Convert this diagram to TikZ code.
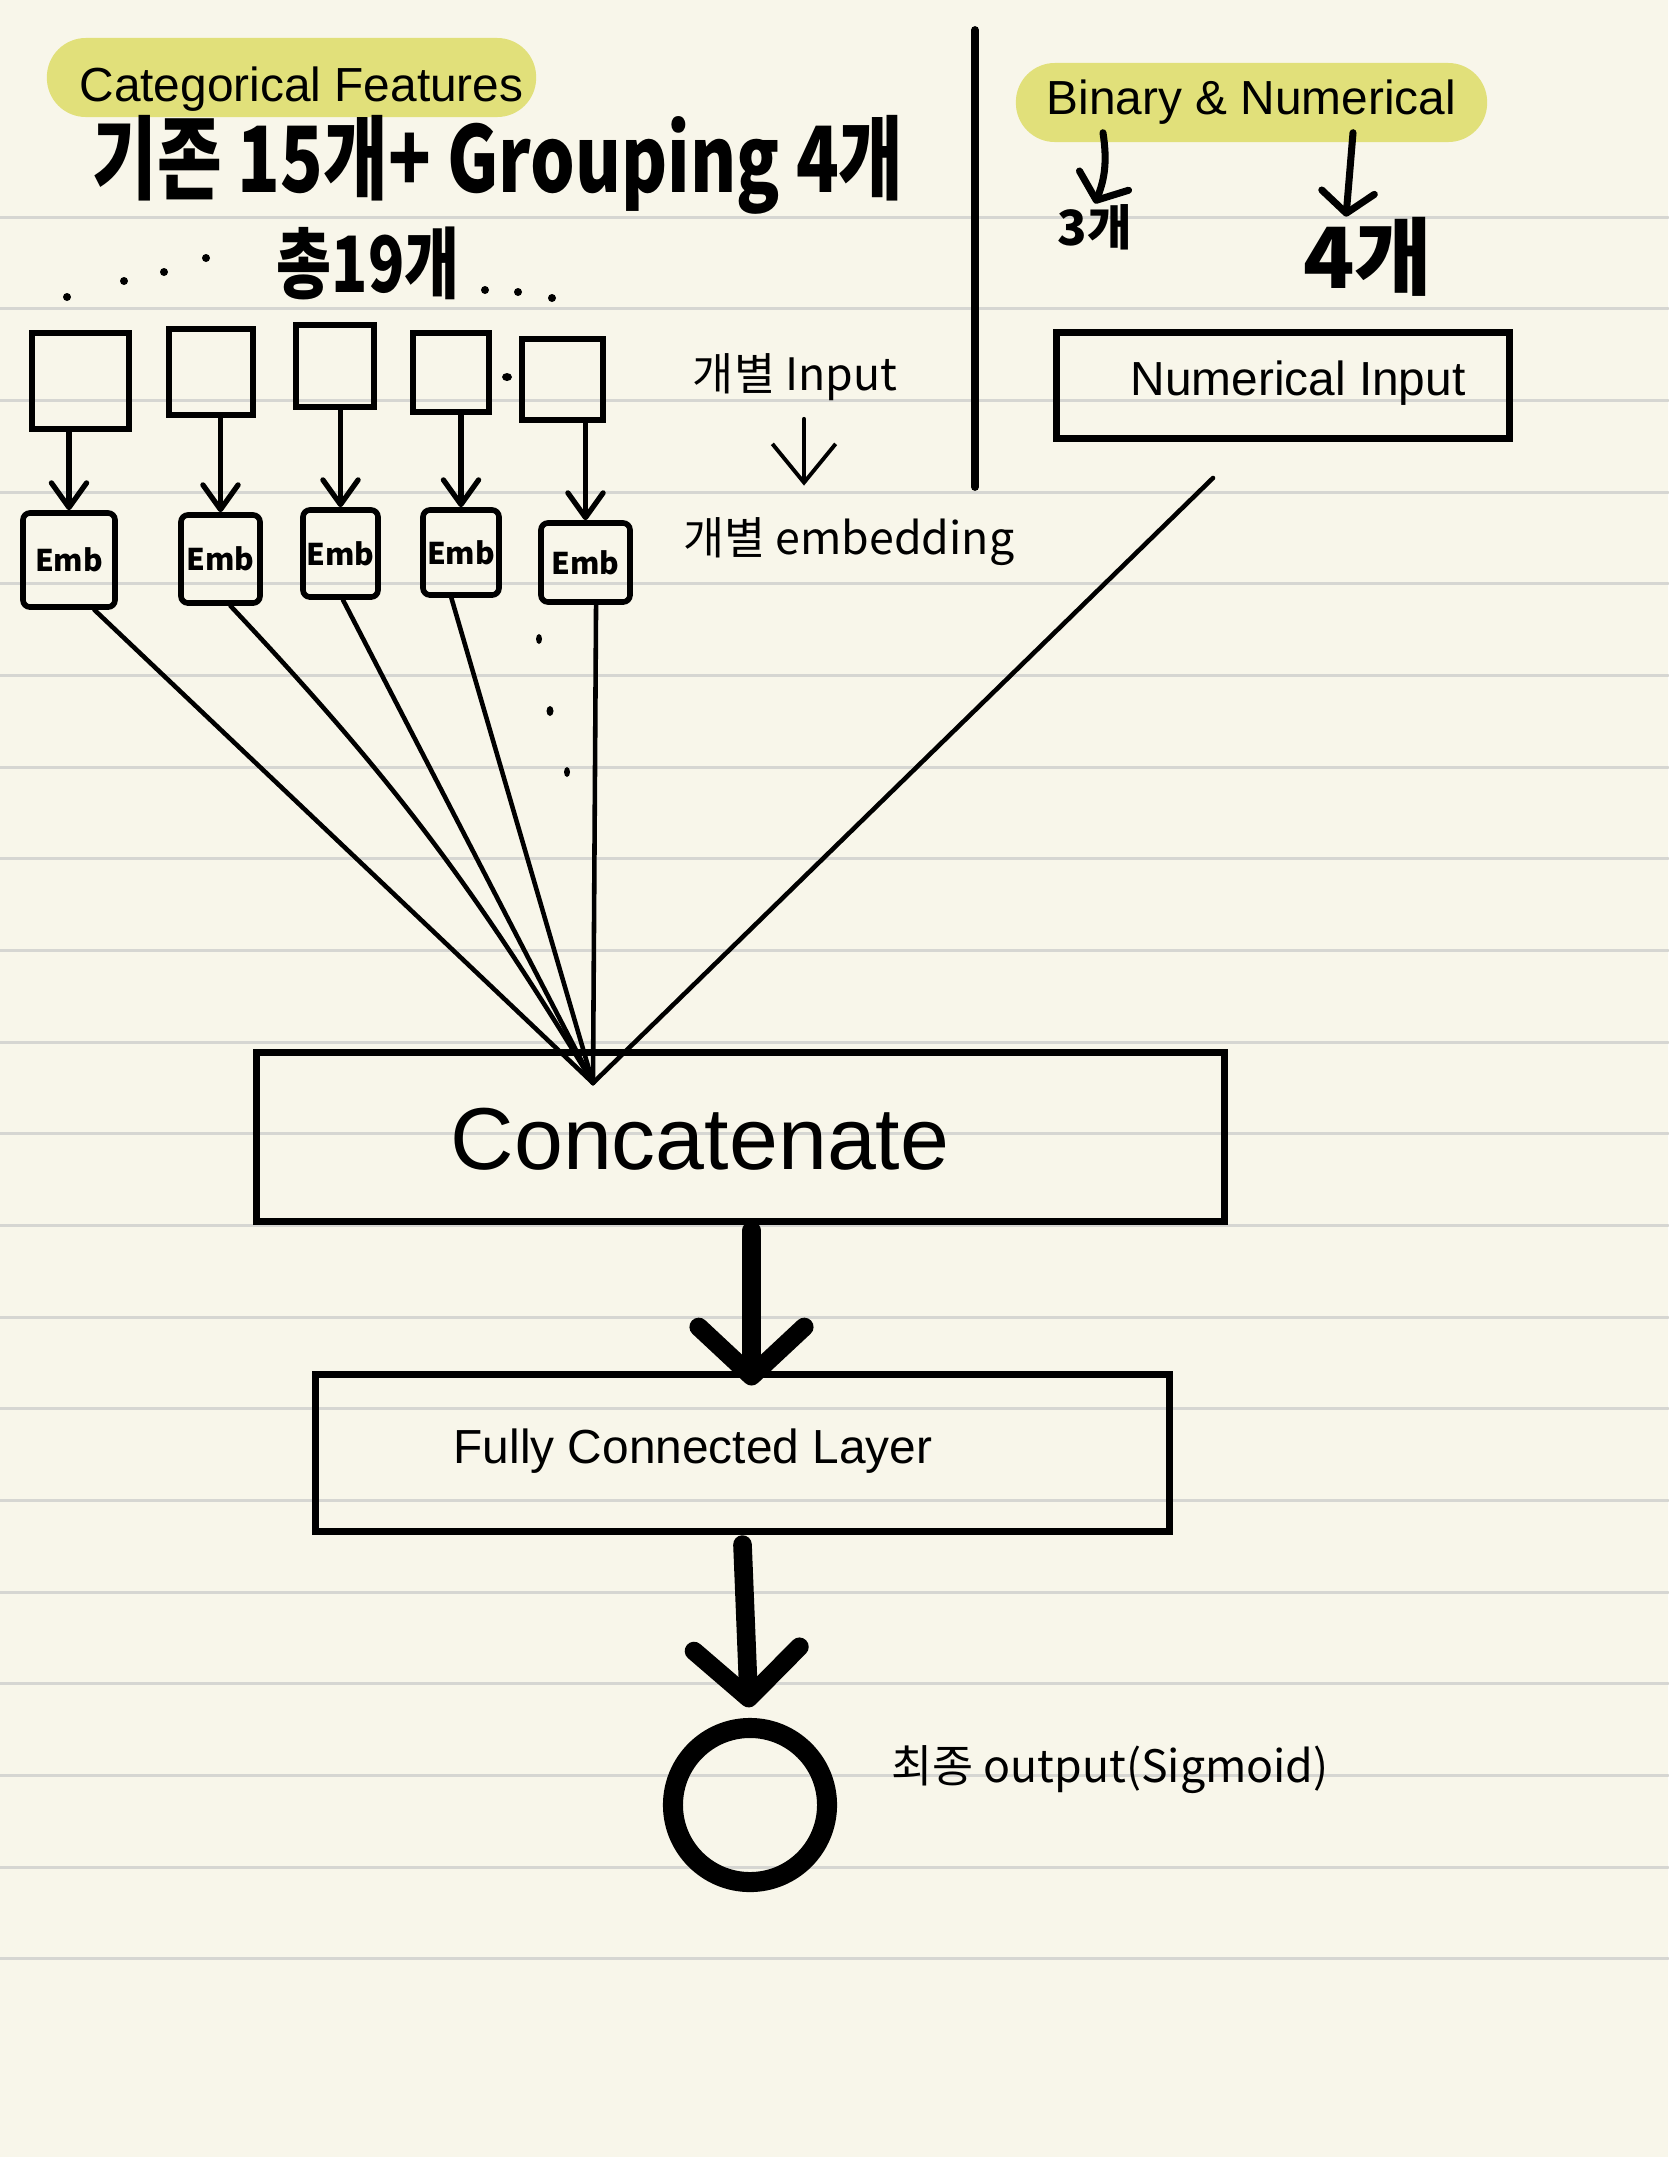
\documentclass[tikz,border=0pt]{standalone}
\usepackage{fontspec}
\setmainfont{Liberation Sans}
\newfontfamily\krfont{Noto Sans CJK KR}
\usetikzlibrary{arrows.meta, calc, positioning}

\definecolor{paper}{RGB}{248,246,234}
\definecolor{ruleline}{RGB}{214,214,210}
\definecolor{hilite}{RGB}{225,224,122}

\newcommand{\labelfont}{\fontsize{13.6pt}{16pt}\selectfont}
\newcommand{\notefont}{\krfont\fontsize{12.7pt}{15pt}\selectfont}

\tikzset{
  pill/.style={fill=hilite, rounded corners=0.39cm, minimum height=0.79cm, inner sep=0pt, font=\labelfont},
  inbox/.style={draw, line width=1.7pt, inner sep=0pt},
  embbox/.style={draw, line width=1.6pt, rounded corners=2pt, inner sep=0pt,
    font=\krfont\bfseries\fontsize{8.5pt}{9pt}\selectfont},
  layerbox/.style={draw, line width=2pt, inner sep=0pt},
  note/.style={inner sep=0pt, font=\notefont},
  hand/.style={inner sep=0pt, font=\krfont\bfseries},
  feed/.style={line width=1.3pt},
  smallarrow/.style={line width=1.5pt, -{Straight Barb[length=7pt, width=10pt, round]}},
  handarrow/.style={line width=2pt, -{Straight Barb[length=6pt, width=15pt, round]}},
  thinarrow/.style={line width=1.1pt, -{Straight Barb[length=11pt, width=18pt]}},
  bigarrow/.style={line width=5.3pt, line cap=round, -{Straight Barb[length=14pt, width=30pt, round]}},
  ruled/.style={ruleline, line width=0.85pt}
}

\begin{document}
\begin{tikzpicture}[x=0.01cm, y=-0.01cm, line cap=round]
  % paper
  \fill[paper] (0,0) rectangle (1668,2157);
  \useasboundingbox (0,0) rectangle (1668,2157);
  \foreach \k in {0,...,19} {
    \draw[ruled] (0,{217+91.67*\k}) -- (1668,{217+91.67*\k});
  }

  % headings
  \node[pill, minimum width=4.89cm, text height=0.47cm, text depth=0pt] (catpill) at (291.5,77.5) {\hspace*{0.2cm}Categorical Features};
  \node[pill, minimum width=4.71cm] (binpill) at (1251.5,102.5) {Binary \& Numerical};

  % handwritten notes
  \node[hand, font=\krfont\bfseries\fontsize{20pt}{24pt}\selectfont] (basecnt) at (498,165) {\scalebox{1}[1.3]{기존 15개+ Grouping 4개}};
  \node[hand, font=\krfont\bfseries\fontsize{17pt}{20pt}\selectfont] (totcnt) at (368,263) {\scalebox{1}[1.3]{총19개}};
  \foreach \p in {(67,297),(124,281),(164,272),(206,258),(485,290),(518,292),(552,298)} {
    \fill \p ellipse (4 and 4);
  }
  \node[hand, font=\krfont\bfseries\fontsize{13.8pt}{16pt}\selectfont] (cnt3) at (1095,227) {3개};
  \node[hand, font=\krfont\bfseries\fontsize{24pt}{28pt}\selectfont] (cnt4) at (1368,257) {4개};
  \draw[handarrow] ($(binpill.south -| cnt3.north)+(8,-10)$) to[bend left=15] (cnt3.north);
  \draw[handarrow] ($(binpill.south -| cnt4.north)+(-15,-10)$) -- ($(cnt4.north)+(-22,0)$);

  % separator
  \draw[line width=2.2pt] (975,30) -- (975,487);

  % categorical inputs
  \node[inbox, minimum width=0.97cm, minimum height=0.96cm] (in1) at (80.5,381) {};
  \node[inbox, minimum width=0.84cm, minimum height=0.86cm] (in2) at (211,372) {};
  \node[inbox, minimum width=0.78cm, minimum height=0.82cm] (in3) at (335,366) {};
  \node[inbox, minimum width=0.76cm, minimum height=0.79cm] (in4) at (451,372.5) {};
  \node[inbox, minimum width=0.81cm, minimum height=0.81cm] (in5) at (562.5,379.5) {};
  \fill (507,377) ellipse (5 and 4);

  % embeddings
  \node[embbox, minimum width=0.92cm, minimum height=0.94cm] (emb1) at (69,560) {Emb};
  \node[embbox, minimum width=0.79cm, minimum height=0.88cm] (emb2) at (220.5,559) {Emb};
  \node[embbox, minimum width=0.75cm, minimum height=0.87cm] (emb3) at (340.5,553.5) {Emb};
  \node[embbox, minimum width=0.76cm, minimum height=0.85cm] (emb4) at (461,552.5) {Emb};
  \node[embbox, minimum width=0.89cm, minimum height=0.79cm] (emb5) at (585.5,562.5) {Emb};
  \foreach \i in {1,...,5} {
    \draw[smallarrow] (in\i.south -| emb\i.north) -- (emb\i.north);
  }
  \fill (539,639) ellipse (3 and 5);
  \fill (550,711) ellipse (3.5 and 5);
  \fill (567,772) ellipse (3 and 5);

  % side notes
  \node[note] (inlbl) at (795,377) {개별 Input};
  \node[note] (emblbl) at (849,542) {개별 embedding};
  \draw[thinarrow, shorten <=5pt, shorten >=9pt] ($(inlbl.south)+(9,0)$) -- ($(inlbl.south |- emblbl.north)+(9,0)$);

  % numerical input
  \node[layerbox, minimum width=4.52cm, minimum height=1.05cm] (numin) at (1283,385.5) {};
  \node[inner sep=0pt, font=\labelfont] (numtxt) at (1298,383) {Numerical Input};
  \coordinate (numend) at (1213,478);

  % concatenate
  \node[layerbox, minimum width=9.67cm, minimum height=1.68cm] (concat) at (740.5,1137) {};
  \node[inner sep=0pt, font=\fontsize{25pt}{30pt}\selectfont] (concattxt) at (700,1139) {Concatenate};
  \coordinate (cc) at (593,1083);
  \draw[feed] (emb1.-63) -- (cc);
  \draw[feed] (emb2.-78) to[bend left=6] (cc);
  \draw[feed] (emb3.-87) -- (cc);
  \draw[feed] (emb4.-102) -- (cc);
  \draw[feed] (emb5.-76) -- (cc);
  \draw[feed] (numend) -- (cc);

  % dense layer
  \node[layerbox, minimum width=8.53cm, minimum height=1.56cm] (fc) at (742.5,1453) {};
  \node[inner sep=0pt, font=\labelfont] (fctxt) at (693,1451) {Fully Connected Layer};
  \draw[bigarrow, shorten >=-4pt] ($(concat.south)+(11,6)$) -- ($(concat.south |- fc.north)+(11,0)$);

  % output
  \node[draw, circle, line width=5.7pt, minimum size=1.54cm, inner sep=0pt] (outc) at (750,1805) {};
  \node[note] (outlbl) at (1110,1770) {최종 output(Sigmoid)};
  \draw[bigarrow, shorten >=3pt] ($(fc.south)+(0,10)$) -- ($(fc.south |- outc.north)+(7,0)$);
\end{tikzpicture}
\end{document}
